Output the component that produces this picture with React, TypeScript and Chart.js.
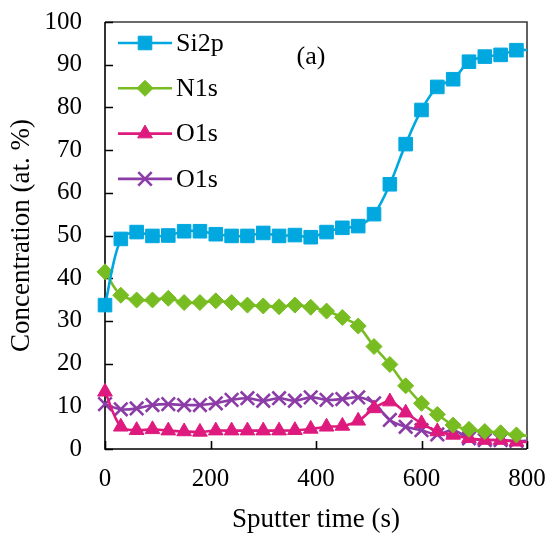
import React, { useEffect, useRef } from 'react';
import { Chart, registerables } from 'chart.js';
import { drawPoint } from 'chart.js/helpers';

Chart.register(...registerables);

// Sputter time (s); the last entry is the line's tail that runs into the frame
const sputterTime = [0, 30, 60, 90, 120, 150, 180, 210, 240, 270, 300, 330, 360, 390, 420, 450, 480, 510, 540, 570, 600, 630, 660, 690, 720, 750, 780, 810];
const si2p = [33.7, 49.2, 50.8, 49.9, 50.0, 51.0, 51.0, 50.3, 49.9, 49.9, 50.6, 49.9, 50.1, 49.6, 50.8, 51.8, 52.2, 55.0, 62.0, 71.4, 79.4, 84.8, 86.6, 90.7, 91.9, 92.3, 93.4, 93.4];
const n1s = [41.5, 36.0, 34.9, 34.9, 35.3, 34.3, 34.3, 34.7, 34.3, 33.7, 33.5, 33.3, 33.7, 33.2, 32.3, 30.8, 28.8, 24.0, 19.8, 14.8, 10.7, 8.1, 5.6, 4.6, 4.1, 3.8, 3.3, 3.0];
const o1sA = [13.4, 5.2, 4.4, 4.6, 4.3, 4.1, 4.0, 4.3, 4.3, 4.3, 4.3, 4.3, 4.4, 4.7, 5.2, 5.4, 6.6, 9.5, 11.1, 8.5, 6.0, 4.1, 3.3, 2.5, 2.1, 2.1, 1.7, 1.6];
const o1sB = [10.5, 9.3, 9.5, 10.3, 10.5, 10.3, 10.3, 10.7, 11.5, 11.9, 11.3, 11.9, 11.3, 12.1, 11.5, 11.7, 12.1, 10.7, 6.8, 5.2, 4.4, 3.4, 4.4, 2.5, 2.1, 2.1, 1.9, 1.9];
const seriesLabels = ['Si2p', 'N1s', 'O1s', 'O1s'];
const xTickStep = 200;
const yTickStep = 10;
const panelLabel = '(a)';
const xTitle = 'Sputter time (s)';
const yTitle = 'Concentration (at. %)';

const FONT = "'Liberation Serif', 'Times New Roman', serif";
const LAST_MARKED = 26;

const toPoints = (ys: number[]) => ys.map((y, i) => ({ x: sputterTime[i], y }));

const makeDataset = (label: string, ys: number[], color: string, style: string, radius: number, pbw: number) => ({
  label,
  data: toPoints(ys),
  borderColor: color,
  backgroundColor: color,
  borderWidth: 2.6,
  tension: 0.35,
  pointStyle: style,
  pointRadius: (c: any) => (c.dataIndex > LAST_MARKED ? 0 : radius),
  pointBorderWidth: pbw,
  pointBorderColor: color,
  pointBackgroundColor: color,
  clip: { left: 20, top: 20, right: 0, bottom: 20 },
});

const framePlugin = {
  id: 'frameTicks',
  beforeDatasetsDraw(chart: any) {
    const { ctx, chartArea, scales } = chart;
    const { left, right, top, bottom } = chartArea;
    ctx.save();
    ctx.lineWidth = 1.6;
    ctx.strokeStyle = '#3a3a3a';
    ctx.beginPath();
    ctx.moveTo(left, top);
    ctx.lineTo(right, top);
    ctx.lineTo(right, bottom);
    ctx.stroke();
    ctx.strokeStyle = '#000';
    ctx.beginPath();
    ctx.moveTo(left, top);
    ctx.lineTo(left, bottom);
    ctx.lineTo(right, bottom);
    ctx.stroke();
    ctx.beginPath();
    scales.y.ticks.forEach((t: any) => {
      const py = Math.round(scales.y.getPixelForValue(t.value)) + 0.5;
      ctx.moveTo(left, py);
      ctx.lineTo(left + 8, py);
    });
    scales.x.ticks.forEach((t: any) => {
      const px = Math.round(scales.x.getPixelForValue(t.value)) + 0.5;
      ctx.moveTo(px, bottom);
      ctx.lineTo(px, bottom - 8);
    });
    ctx.stroke();
    ctx.restore();
  },
  afterDraw(chart: any) {
    const { ctx, chartArea } = chart;
    ctx.save();
    const x0 = chartArea.left + 13;
    const x1 = chartArea.left + 67;
    const xm = (x0 + x1) / 2;
    const y0 = chartArea.top + 21;
    const gap = 45.3;
    chart.data.datasets.forEach((ds: any, i: number) => {
      const yy = y0 + i * gap;
      ctx.strokeStyle = ds.borderColor;
      ctx.fillStyle = ds.borderColor;
      ctx.lineWidth = ds.borderWidth;
      ctx.beginPath();
      ctx.moveTo(x0, yy);
      ctx.lineTo(x1, yy);
      ctx.stroke();
      ctx.lineWidth = ds.pointBorderWidth;
      drawPoint(ctx, { pointStyle: ds.pointStyle, radius: ds.pointRadius({ dataIndex: 0 }), rotation: 0, borderWidth: ds.pointBorderWidth }, xm, yy);
      ctx.fillStyle = '#000';
      ctx.font = `26px ${FONT}`;
      ctx.textBaseline = 'middle';
      ctx.textAlign = 'left';
      ctx.fillText(ds.label, x1 + 4, yy + 1);
    });
    ctx.font = `26px ${FONT}`;
    ctx.textAlign = 'center';
    ctx.textBaseline = 'middle';
    ctx.fillStyle = '#000';
    ctx.fillText(panelLabel, chartArea.left + 206, chartArea.top + 35);
    ctx.restore();
  },
};

export default function App() {
  const ref = useRef<HTMLCanvasElement | null>(null);
  useEffect(() => {
    if (!ref.current) return;
    const chart = new Chart(ref.current, {
      type: 'line',
      data: {
        datasets: [
          makeDataset(seriesLabels[0], si2p, '#00A8DF', 'rect', 9.6, 1),
          makeDataset(seriesLabels[1], n1s, '#77BD21', 'rectRot', 8, 1),
          makeDataset(seriesLabels[2], o1sA, '#DE1A7E', 'triangle', 8.5, 1),
          makeDataset(seriesLabels[3], o1sB, '#8B3CA6', 'crossRot', 9.5, 2.6),
        ] as any,
      },
      options: {
        responsive: false,
        animation: false,
        layout: { padding: { top: 22, right: 21, left: 0, bottom: 0 } },
        plugins: { legend: { display: false }, tooltip: { enabled: false } },
        scales: {
          x: {
            type: 'linear',
            min: 0,
            max: 800,
            grid: { display: false, drawTicks: false },
            border: { display: false },
            ticks: { stepSize: xTickStep, color: '#000', padding: 15, font: { family: FONT, size: 25 }, maxRotation: 0 },
            title: { display: true, text: xTitle, color: '#000', font: { family: FONT, size: 27, lineHeight: 1 }, padding: { top: 0, bottom: 0 } },
            afterFit: (s: any) => { s.height = 84; s.paddingLeft = 0; s.paddingRight = 0; },
          },
          y: {
            min: 0,
            max: 100,
            grid: { display: false, drawTicks: false },
            border: { display: false },
            ticks: { stepSize: yTickStep, color: '#000', padding: 23, font: { family: FONT, size: 25 } },
            title: { display: true, text: yTitle, color: '#000', font: { family: FONT, size: 27, lineHeight: 1 }, padding: { top: 8, bottom: 0 } },
            afterFit: (s: any) => { s.width = 105; s.paddingTop = 0; s.paddingBottom = 0; },
          },
        },
      },
      plugins: [framePlugin],
    });
    return () => chart.destroy();
  }, []);
  return (
    <div style={{ position: 'fixed', left: 0, top: 0, width: 548, height: 533, background: '#fff' }}>
      <canvas ref={ref} width={548} height={533} />
    </div>
  );
}
